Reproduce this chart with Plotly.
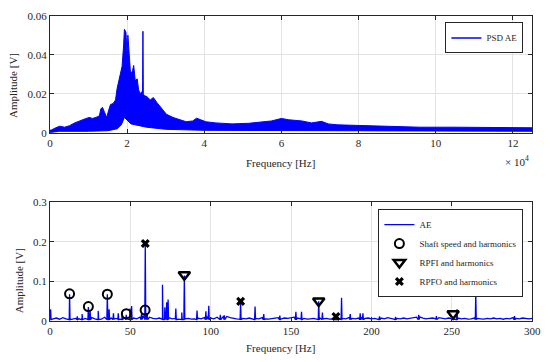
import plotly.graph_objects as go

# ---------------- Top panel: PSD of AE (envelope of dense spectrum) ----------------
psd_freq_khz = [0, 0.4, 1.3, 2.5, 3.8, 5.1, 6.4, 7.7, 8.5, 9.4, 10.2, 11.0, 11.9, 12.8, 13.2, 13.6,
                14.2, 14.7, 15.3, 15.7, 16.4, 17.0, 17.4, 17.9, 18.3, 18.7, 19.1, 19.3, 19.7, 20.0,
                20.2, 20.5, 20.9, 21.4, 21.7, 22.1, 22.6, 23.0, 23.4, 23.8, 24.0, 24.1, 24.2, 24.4,
                25.1, 26.0, 26.8, 27.7, 28.5, 29.4, 30.2, 31.9, 33.6, 35.3, 37.0, 38.0, 39.1, 40.4,
                43.0, 47.2, 51.5, 54.9, 57.4, 60.0, 61.9, 65.3, 67.8, 70.4, 72.1, 74.6, 80.2, 87.4,
                95.9, 104.4, 112.9, 120.0, 125.0]
psd_upper = [0.0012, 0.0014, 0.0023, 0.0033, 0.0028, 0.0036, 0.0050, 0.0060, 0.0070, 0.0073, 0.0078,
             0.0073, 0.0078, 0.0086, 0.0122, 0.0130, 0.0102, 0.0078, 0.0120, 0.0144, 0.0150, 0.0168,
             0.0226, 0.0267, 0.0310, 0.0340, 0.0450, 0.0530, 0.0515, 0.0400, 0.0500, 0.0400, 0.0300,
             0.0317, 0.0345, 0.0267, 0.0276, 0.0218, 0.0200, 0.0210, 0.0200, 0.0520, 0.0200, 0.0190,
             0.0185, 0.0168, 0.0180, 0.0155, 0.0135, 0.0110, 0.0094, 0.0078, 0.0066, 0.0056, 0.0060,
             0.0074, 0.0066, 0.0056, 0.0050, 0.0045, 0.0048, 0.0056, 0.0060, 0.0073, 0.0066, 0.0060,
             0.0050, 0.0058, 0.0045, 0.0040, 0.0036, 0.0031, 0.0028, 0.0028, 0.0026, 0.0026, 0.0025]
psd_lower_freq_khz = [0, 2.5, 10.0, 15.0, 17.5, 18.5, 19.3, 20.0, 21.0, 25.0, 30.0, 40.0, 60.0, 125.0]
psd_lower = [0.0, 0.0007, 0.0007, 0.0010, 0.0020, 0.0040, 0.0078, 0.0065, 0.0045, 0.0028, 0.0017,
             0.0012, 0.0012, 0.0007]

top_xticks = [0, 2, 4, 6, 8, 10, 12]
top_yticks = [0, 0.02, 0.04, 0.06]

# ---------------- Bottom panel: AE spectrum 0-300 Hz ----------------
ae_base_step = 2
ae_base = [0.010, 0.006, 0.008, 0.005, 0.009, 0.006, 0.008, 0.005, 0.007, 0.006, 0.009,
           0.007, 0.012, 0.009, 0.006, 0.008, 0.005, 0.010, 0.007, 0.008, 0.006,
           0.007, 0.005, 0.009, 0.006, 0.011, 0.008, 0.006, 0.010, 0.014, 0.012,
           0.010, 0.007, 0.006, 0.008, 0.005, 0.012, 0.009, 0.006, 0.007, 0.005,
           0.008, 0.006, 0.007, 0.005, 0.006, 0.008, 0.006, 0.009, 0.012, 0.008,
           0.006, 0.010, 0.014, 0.013, 0.012, 0.009, 0.007, 0.006, 0.005, 0.007,
           0.006, 0.008, 0.005, 0.007, 0.006, 0.009, 0.006, 0.005, 0.007, 0.008,
           0.009, 0.006, 0.008, 0.007, 0.009, 0.010, 0.008, 0.006, 0.007, 0.005,
           0.006, 0.007, 0.005, 0.008, 0.006, 0.007, 0.005, 0.006, 0.008, 0.006,
           0.007, 0.006, 0.009, 0.007, 0.006, 0.008, 0.010, 0.007, 0.008, 0.006,
           0.007, 0.005, 0.008, 0.006, 0.009, 0.006, 0.005, 0.007, 0.006, 0.008,
           0.006, 0.007, 0.009, 0.010, 0.011, 0.008, 0.006, 0.007, 0.008, 0.006,
           0.009, 0.007, 0.006, 0.008, 0.007, 0.006, 0.008, 0.006, 0.007, 0.005,
           0.006, 0.008, 0.007, 0.006, 0.005, 0.007, 0.006, 0.008, 0.006, 0.007,
           0.005, 0.007, 0.006, 0.009, 0.007, 0.006, 0.008, 0.007, 0.006, 0.007]
spike_freq = [0.4, 12.2, 17.0, 20.0, 23.9, 25.0, 30.0, 35.7, 36.8, 39.5, 42.5, 45.0, 47.5, 49.8,
              50.8, 57.0, 59.3, 60.5, 70.0, 71.5, 72.6, 73.5, 78.3, 82.0, 83.6, 91.5, 97.0, 98.8,
              106.0, 108.5, 118.6, 127.6, 133.0, 143.0, 153.0, 156.5, 167.2, 169.5, 177.9, 181.4,
              186.8, 193.0, 194.7, 205.0, 215.0, 229.4, 240.4, 253.2, 264.9, 289.0]
spike_amp = [0.030, 0.068, 0.012, 0.018, 0.036, 0.025, 0.026, 0.068, 0.030, 0.020, 0.020, 0.020,
             0.016, 0.032, 0.038, 0.022, 0.195, 0.020, 0.092, 0.035, 0.048, 0.055, 0.032, 0.022,
             0.115, 0.027, 0.025, 0.039, 0.016, 0.015, 0.047, 0.037, 0.018, 0.014, 0.024, 0.024,
             0.050, 0.022, 0.010, 0.059, 0.018, 0.020, 0.020, 0.012, 0.011, 0.016, 0.013, 0.030,
             0.071, 0.013]

shaft_f = [12.2, 23.9, 35.7, 47.5, 59.2]
shaft_a = [0.069, 0.037, 0.068, 0.019, 0.028]
rpfi_f = [83.6, 167.2, 250.8]
rpfi_a = [0.117, 0.051, 0.019]
rpfo_f = [59.3, 118.6, 177.9]
rpfo_a = [0.196, 0.050, 0.012]

bot_xticks = [0, 50, 100, 150, 200, 250, 300]
bot_yticks = [0, 0.1, 0.2, 0.3]

# ---------------- build traces ----------------
FONT = "Liberation Serif"
TXT = "#262626"
BLUE = "#0000ff"

poly_x = [f * 1000 for f in psd_freq_khz] + [f * 1000 for f in reversed(psd_lower_freq_khz)]
poly_y = psd_upper + list(reversed(psd_lower))

pts = [(i * ae_base_step, v) for i, v in enumerate(ae_base)]
for f, a in zip(spike_freq, spike_amp):
    pts.append((f - 0.3, 0.004))
    pts.append((f, a))
    pts.append((f + 0.3, 0.004))
pts.sort(key=lambda p: p[0])
ae_x = [p[0] for p in pts]
ae_y = [p[1] for p in pts]

fig = go.Figure()
fig.add_trace(go.Scatter(x=poly_x, y=poly_y, fill="toself", fillcolor=BLUE, mode="lines",
                         line=dict(color=BLUE, width=1), showlegend=False,
                         xaxis="x", yaxis="y", hoverinfo="skip"))
fig.add_trace(go.Scatter(x=[None], y=[None], mode="lines", name="PSD AE",
                         line=dict(color=BLUE, width=1.5), xaxis="x", yaxis="y", legend="legend2"))

fig.add_trace(go.Scatter(x=ae_x, y=ae_y, mode="lines", name="AE",
                         line=dict(color=BLUE, width=1.3), xaxis="x2", yaxis="y2", legend="legend"))
fig.add_trace(go.Scatter(x=shaft_f, y=shaft_a, mode="markers", name="Shaft speed and harmonics",
                         marker=dict(symbol="circle-open", size=9, color="black", line=dict(width=2)),
                         xaxis="x2", yaxis="y2", legend="legend"))
fig.add_trace(go.Scatter(x=rpfi_f, y=rpfi_a, mode="markers", name="RPFI and harmonics",
                         marker=dict(symbol="triangle-down-open", size=10, color="black", line=dict(width=2.5)),
                         xaxis="x2", yaxis="y2", legend="legend"))
fig.add_trace(go.Scatter(x=rpfo_f, y=rpfo_a, mode="markers", name="RPFO and harmonics",
                         marker=dict(symbol="x", size=8, color="black", line=dict(width=0)),
                         xaxis="x2", yaxis="y2", legend="legend"))

W, H = 550, 362
xdom = [48 / W, 541 / W]
top_dom = [1 - 131 / H, 1 - 10 / H]
bot_dom = [1 - 326 / H, 1 - 203 / H]

axis_common = dict(showline=True, linecolor="#262626", linewidth=1, mirror="ticks",
                   ticks="inside", ticklen=4, tickcolor="#262626", showgrid=True,
                   gridcolor="#e3e3e3", gridwidth=1, zeroline=False,
                   tickfont=dict(family=FONT, size=11, color=TXT))


def label(text, x, y, angle=0):
    return dict(text=text, x=x / W, y=1 - y / H, xref="paper", yref="paper",
                xanchor="center", yanchor="middle", showarrow=False, textangle=angle,
                font=dict(family=FONT, size=11, color=TXT))


fig.update_layout(
    width=W, height=H, margin=dict(l=0, r=0, t=0, b=0),
    paper_bgcolor="white", plot_bgcolor="white",
    font=dict(family=FONT, size=11, color=TXT),
    xaxis=dict(domain=xdom, anchor="y", range=[0, 125000],
               tickvals=[t * 10000 for t in top_xticks], ticktext=[str(t) for t in top_xticks],
               **axis_common),
    yaxis=dict(domain=top_dom, anchor="x", range=[0, 0.06], tickvals=top_yticks,
               ticktext=["0", "0.02", "0.04", "0.06"], **axis_common),
    xaxis2=dict(domain=xdom, anchor="y2", range=[0, 300], tickvals=bot_xticks, **axis_common),
    yaxis2=dict(domain=bot_dom, anchor="x2", range=[0, 0.3], tickvals=bot_yticks,
                ticktext=["0", "0.1", "0.2", "0.3"], **axis_common),
    legend=dict(x=532 / W, xanchor="right", y=1 - 210 / H, yanchor="top",
                bgcolor="white", bordercolor="#262626", borderwidth=1,
                font=dict(family=FONT, size=9, color=TXT), itemwidth=30,
                tracegroupgap=0),
    legend2=dict(x=532 / W, xanchor="right", y=1 - 17 / H, yanchor="top",
                 bgcolor="white", bordercolor="#262626", borderwidth=1,
                 font=dict(family=FONT, size=9, color=TXT), itemwidth=30),
    annotations=[
        label("Frequency [Hz]", 284, 162),
        label("Frequency [Hz]", 284, 354),
        label("Amplitude [V]", 10, 82, -90),
        label("Amplitude [V]", 16, 284, -90),
        label("× 10<sup>4</sup>", 525, 160),
    ],
)

fig.write_html("out.html", config={"displayModeBar": False})

# remove the browser's default page margin so the figure sits at the window origin
with open("out.html", "r", encoding="utf-8") as fh:
    html = fh.read()
html = html.replace("<head>", "<head><style>html,body{margin:0;padding:0;overflow:hidden;}</style>", 1)
with open("out.html", "w", encoding="utf-8") as fh:
    fh.write(html)
